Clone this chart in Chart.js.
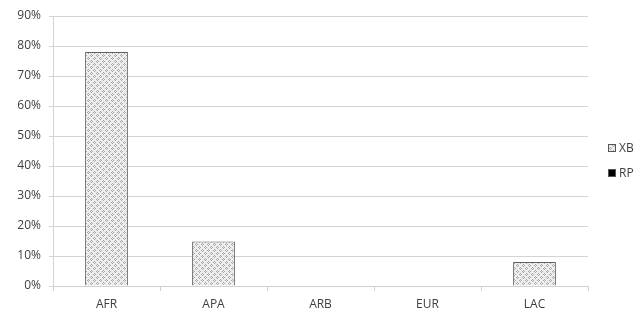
<!DOCTYPE html>
<html>
<head>
<meta charset="utf-8">
<script src="https://cdn.jsdelivr.net/npm/chart.js@4"></script>
<style>
  html, body { margin: 0; padding: 0; background: #ffffff; }
  #wrap { width: 642px; height: 311px; }
</style>
</head>
<body>
<div id="wrap"><canvas id="chart" width="642" height="311"></canvas></div>
<script>
const categories = ["AFR", "APA", "ARB", "EUR", "LAC"];
const xbValues = [78, 14.8, 0, 0, 8];
const rpValues = [0, 0, 0, 0, 0];
const yTicks = [0, 10, 20, 30, 40, 50, 60, 70, 80, 90];

// dotted grey fill like the old Excel pattern
function makePattern() {
    const c = document.createElement("canvas");
    c.width = 6; c.height = 6;
    const g = c.getContext("2d");
    g.fillStyle = "#ededed";
    g.fillRect(0, 0, 6, 6);
    g.fillStyle = "#a8a8a8";
    g.fillRect(1, 0, 1, 1);
    g.fillRect(0, 1, 1, 1); g.fillRect(2, 1, 1, 1);
    g.fillRect(1, 2, 1, 1);
    g.fillRect(4, 3, 1, 1);
    g.fillRect(3, 4, 1, 1); g.fillRect(5, 4, 1, 1);
    g.fillRect(4, 5, 1, 1);
    return g.createPattern(c, "repeat");
}

const textColor = "#404040";
const fontFamily = "'Open Sans', sans-serif";

// simple legend to the right, like the reference
const sideLegend = {
    id: "sideLegend",
    afterDraw(chart) {
        const ctx = chart.ctx;
        const x = 608;
        let y = 148;
        ctx.save();
        ctx.font = "12px " + fontFamily;
        ctx.textBaseline = "middle";
        chart.data.datasets.forEach(ds => {
            ctx.fillStyle = ds.legendColor;
            ctx.fillRect(x, y - 4, 8, 8);
            ctx.strokeStyle = "#555";
            ctx.lineWidth = 1;
            ctx.strokeRect(x + 0.5, y - 3.5, 7, 7);
            ctx.fillStyle = textColor;
            ctx.fillText(ds.label, x + 11, y + 1);
            y += 25;
        });
        ctx.restore();
    }
};

const pattern = makePattern();

new Chart(document.getElementById("chart").getContext("2d"), {
    type: "bar",
    data: {
        labels: categories,
        datasets: [
            {
                label: "XB",
                data: xbValues,
                backgroundColor: pattern,
                legendColor: pattern,
                borderColor: "#606060",
                borderWidth: 1,
                grouped: false,
                categoryPercentage: 0.8,
                barPercentage: 0.5
            },
            {
                label: "RP",
                data: rpValues,
                backgroundColor: "#000000",
                legendColor: "#000000",
                borderWidth: 0,
                grouped: false,
                categoryPercentage: 0.8,
                barPercentage: 0.5
            }
        ]
    },
    options: {
        responsive: false,
        animation: false,
        layout: { padding: { top: 16, right: 54, left: 0, bottom: 0 } },
        plugins: {
            legend: { display: false },
            tooltip: { enabled: false }
        },
        scales: {
            x: {
                grid: {
                    offset: true,
                    drawOnChartArea: false,
                    drawTicks: true,
                    tickLength: 5,
                    color: "#d0d0d0"
                },
                border: { display: true, color: "#d0d0d0" },
                ticks: {
                    color: textColor,
                    padding: 6,
                    font: { family: fontFamily, size: 12 }
                },
                afterFit(scale) { scale.height = 25; }
            },
            y: {
                min: 0,
                max: 90,
                afterBuildTicks(scale) {
                    scale.ticks = yTicks.map(v => ({ value: v }));
                },
                grid: {
                    color: "#d4d4d4",
                    tickLength: 4
                },
                border: { display: true, color: "#d4d4d4" },
                ticks: {
                    color: textColor,
                    padding: 8,
                    font: { family: fontFamily, size: 12 },
                    callback: v => v + "%"
                },
                afterFit(scale) { scale.width = 53; }
            }
        }
    },
    plugins: [sideLegend]
});
</script>
</body>
</html>
